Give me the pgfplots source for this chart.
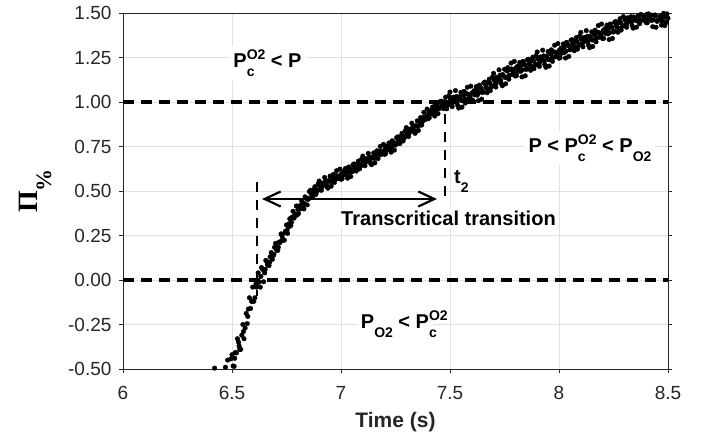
\documentclass[border=0pt]{standalone}
\usepackage{fontspec}
\setmainfont{Liberation Sans}
\newfontfamily\timesf{Liberation Serif}
\usepackage{pgfplots}
\pgfplotsset{compat=1.18}
\usetikzlibrary{arrows.meta}

\newcommand{\supsub}[2]{{\fontsize{14}{16}\selectfont
 \setbox0=\hbox{#1}\setbox2=\hbox{#2}%
 \ifdim\wd0>\wd2 \dimen0=\wd0 \else \dimen0=\wd2 \fi
 \rlap{\raisebox{8pt}{\box0}}\rlap{\raisebox{-9pt}{\box2}}\hspace{\dimen0}}}
\newcommand{\sbs}[1]{\raisebox{-9pt}{\fontsize{14}{16}\selectfont #1}}

\begin{document}
\begin{tikzpicture}
\useasboundingbox (-123pt,-67pt) rectangle (590pt,369pt);
\begin{axis}[
  at={(0,0)}, anchor=south west,
  scale only axis, width=545pt, height=356pt,
  xmin=6, xmax=8.5, ymin=-0.5, ymax=1.5,
  xtick={6,6.5,7,7.5,8,8.5},
  ytick={-0.5,-0.25,0,0.25,0.5,0.75,1,1.25,1.5},
  /pgf/number format/assume math mode=true,
  ticklabel style={font=\fontsize{19}{22}\selectfont, text=black!85},
  xticklabel style={yshift=-10pt},
  yticklabel style={xshift=-4pt, /pgf/number format/fixed, /pgf/number format/fixed zerofill, /pgf/number format/precision=2},
  tick align=outside, major tick length=4pt,
  xtick pos=bottom, ytick pos=both,
  tick style={black!85, line width=0.7pt},
  axis line style={black!85, line width=0.7pt},
  grid=major, major grid style={black!12, line width=0.7pt},
  clip=true,
]
\addplot[black, line width=3.5pt, dash pattern=on 11pt off 7pt] coordinates {(6,1) (8.5,1)};
\addplot[black, line width=3.5pt, dash pattern=on 11pt off 7pt] coordinates {(6,0) (8.5,0)};
\addplot[black, line width=2.5pt, dash pattern=on 10pt off 8pt] coordinates {(6.615,0.55) (6.615,-0.09)};
\addplot[black, line width=2.5pt, dash pattern=on 10pt off 8pt] coordinates {(7.477,0.93) (7.477,0.47)};
% measured samples (outer spread)
\addplot[only marks, mark=*, mark size=2.3pt, black] coordinates {
(6.42,-0.495) (6.47,-0.49)
(6.480,-0.45) (6.485,-0.528) (6.490,-0.505) (6.495,-0.443) (6.500,-0.42) (6.505,-0.483) (6.510,-0.485) (6.515,-0.408)
(6.520,-0.41) (6.525,-0.33) (6.530,-0.35) (6.535,-0.39) (6.540,-0.39) (6.545,-0.31) (6.550,-0.25) (6.555,-0.33)
(6.560,-0.27) (6.565,-0.188) (6.570,-0.245) (6.575,-0.163) (6.580,-0.10) (6.585,-0.16) (6.590,-0.12) (6.595,-0.04)
(6.600,-0.12) (6.605,-0.10) (6.610,-0.02) (6.615,-0.02) (6.620,0.04) (6.625,-0.01) (6.630,-0.04) (6.635,0.07)
(6.640,0.06) (6.645,-0.01) (6.650,0.04) (6.655,0.11) (6.660,0.104) (6.665,0.093) (6.670,0.081) (6.675,0.130)
(6.680,0.154) (6.685,0.116) (6.690,0.138) (6.695,0.184) (6.700,0.206) (6.705,0.168) (6.710,0.166) (6.715,0.212)
(6.720,0.21) (6.725,0.259) (6.730,0.247) (6.735,0.224) (6.740,0.224) (6.745,0.273) (6.750,0.309) (6.755,0.262)
(6.760,0.298) (6.765,0.344) (6.770,0.306) (6.775,0.352) (6.780,0.386) (6.785,0.348) (6.790,0.37) (6.795,0.416)
(6.800,0.366) (6.805,0.374) (6.810,0.417) (6.815,0.413) (6.820,0.444) (6.825,0.416) (6.830,0.399) (6.835,0.467)
(6.840,0.462) (6.845,0.422) (6.850,0.453) (6.855,0.497) (6.860,0.504) (6.865,0.485) (6.870,0.466) (6.875,0.507)
(6.880,0.524) (6.885,0.481) (6.890,0.498) (6.895,0.539) (6.900,0.556) (6.905,0.512) (6.910,0.504) (6.915,0.544)
(6.920,0.536) (6.925,0.576) (6.930,0.556) (6.935,0.524) (6.940,0.516) (6.945,0.556) (6.950,0.584) (6.955,0.527)
(6.960,0.554) (6.965,0.593) (6.970,0.548) (6.975,0.587) (6.980,0.614) (6.985,0.569) (6.990,0.584) (6.995,0.623)
(7.000,0.566) (7.005,0.569) (7.010,0.608) (7.015,0.599) (7.020,0.626) (7.025,0.593) (7.030,0.572) (7.035,0.635)
(7.040,0.626) (7.045,0.581) (7.050,0.608) (7.055,0.648) (7.060,0.652) (7.065,0.632) (7.070,0.612) (7.075,0.652)
(7.080,0.668) (7.085,0.624) (7.090,0.64) (7.095,0.68) (7.100,0.696) (7.105,0.651) (7.110,0.642) (7.115,0.681)
(7.120,0.672) (7.125,0.711) (7.130,0.69) (7.135,0.657) (7.140,0.648) (7.145,0.687) (7.150,0.714) (7.155,0.658)
(7.160,0.686) (7.165,0.726) (7.170,0.682) (7.175,0.722) (7.180,0.75) (7.185,0.706) (7.190,0.722) (7.195,0.762)
(7.200,0.706) (7.205,0.71) (7.210,0.75) (7.215,0.742) (7.220,0.77) (7.225,0.738) (7.230,0.718) (7.235,0.782)
(7.240,0.774) (7.245,0.73) (7.250,0.758) (7.255,0.799) (7.260,0.804) (7.265,0.785) (7.270,0.766) (7.275,0.807)
(7.280,0.824) (7.285,0.781) (7.290,0.798) (7.295,0.839) (7.300,0.856) (7.305,0.813) (7.310,0.806) (7.315,0.847)
(7.320,0.84) (7.325,0.881) (7.330,0.862) (7.335,0.831) (7.340,0.824) (7.345,0.865) (7.350,0.894) (7.355,0.84)
(7.360,0.87) (7.365,0.912) (7.370,0.87) (7.375,0.912) (7.380,0.942) (7.385,0.90) (7.390,0.918) (7.395,0.96)
(7.400,0.906) (7.405,0.911) (7.410,0.951) (7.415,0.944) (7.420,0.972) (7.425,0.941) (7.430,0.921) (7.435,0.986)
(7.440,0.978) (7.445,0.935) (7.450,0.963) (7.455,1.002) (7.460,1.005) (7.465,0.984) (7.470,0.963) (7.475,1.002)
(7.480,1.027) (7.485,0.962) (7.490,0.982) (7.495,1.036) (7.500,1.056) (7.505,0.99) (7.510,0.974) (7.515,1.027)
(7.520,1.011) (7.525,1.064) (7.530,1.031) (7.535,0.982) (7.540,0.966) (7.545,1.019) (7.550,1.054) (7.555,0.971)
(7.560,1.007) (7.565,1.06) (7.570,0.994) (7.575,1.047) (7.580,1.083) (7.585,1.017) (7.590,1.036) (7.595,1.089)
(7.600,1.006) (7.605,1.009) (7.610,1.063) (7.615,1.049) (7.620,1.086) (7.625,1.038) (7.630,1.007) (7.635,1.095)
(7.640,1.081) (7.645,1.016) (7.650,1.053) (7.655,1.108) (7.660,1.112) (7.665,1.082) (7.670,1.052) (7.675,1.107)
(7.680,1.128) (7.685,1.064) (7.690,1.085) (7.695,1.14) (7.700,1.161) (7.705,1.097) (7.710,1.084) (7.715,1.139)
(7.720,1.126) (7.725,1.181) (7.730,1.151) (7.735,1.104) (7.740,1.091) (7.745,1.146) (7.750,1.184) (7.755,1.102)
(7.760,1.139) (7.765,1.193) (7.770,1.128) (7.775,1.182) (7.780,1.219) (7.785,1.154) (7.790,1.174) (7.795,1.228)
(7.800,1.146) (7.805,1.148) (7.810,1.201) (7.815,1.186) (7.820,1.222) (7.825,1.173) (7.830,1.141) (7.835,1.228)
(7.840,1.213) (7.845,1.147) (7.850,1.183) (7.855,1.237) (7.860,1.24) (7.865,1.209) (7.870,1.178) (7.875,1.232)
(7.880,1.252) (7.885,1.187) (7.890,1.207) (7.895,1.261) (7.900,1.281) (7.905,1.215) (7.910,1.2) (7.915,1.253)
(7.920,1.238) (7.925,1.291) (7.930,1.259) (7.935,1.21) (7.940,1.195) (7.945,1.248) (7.950,1.284) (7.955,1.202)
(7.960,1.239) (7.965,1.293) (7.970,1.228) (7.975,1.282) (7.980,1.319) (7.985,1.254) (7.990,1.274) (7.995,1.328)
(8.000,1.246) (8.005,1.249) (8.010,1.303) (8.015,1.289) (8.020,1.326) (8.025,1.278) (8.030,1.247) (8.035,1.335)
(8.040,1.321) (8.045,1.256) (8.050,1.293) (8.055,1.347) (8.060,1.35) (8.065,1.319) (8.070,1.288) (8.075,1.342)
(8.080,1.362) (8.085,1.297) (8.090,1.317) (8.095,1.371) (8.100,1.391) (8.105,1.325) (8.110,1.31) (8.115,1.363)
(8.120,1.348) (8.125,1.401) (8.130,1.369) (8.135,1.32) (8.140,1.305) (8.145,1.358) (8.150,1.394) (8.155,1.312)
(8.160,1.349) (8.165,1.403) (8.170,1.338) (8.175,1.392) (8.180,1.429) (8.185,1.364) (8.190,1.384) (8.195,1.438)
(8.200,1.356) (8.205,1.358) (8.210,1.411) (8.215,1.396) (8.220,1.432) (8.225,1.383) (8.230,1.351) (8.235,1.438)
(8.240,1.423) (8.245,1.357) (8.250,1.393) (8.255,1.448) (8.260,1.452) (8.265,1.422) (8.270,1.392) (8.275,1.447)
(8.280,1.468) (8.285,1.404) (8.290,1.425) (8.295,1.48) (8.300,1.501) (8.305,1.435) (8.310,1.42) (8.315,1.473)
(8.320,1.458) (8.325,1.511) (8.330,1.479) (8.335,1.43) (8.340,1.415) (8.345,1.468) (8.350,1.504) (8.355,1.42)
(8.360,1.455) (8.365,1.507) (8.370,1.44) (8.375,1.492) (8.380,1.527) (8.385,1.46) (8.390,1.478) (8.395,1.53)
(8.400,1.446) (8.405,1.445) (8.410,1.495) (8.415,1.477) (8.420,1.51) (8.425,1.458) (8.430,1.423) (8.435,1.507)
(8.440,1.489) (8.445,1.42) (8.450,1.453) (8.455,1.503) (8.460,1.502) (8.465,1.467) (8.470,1.432) (8.475,1.482)
(8.480,1.498) (8.485,1.429) (8.490,1.445) (8.495,1.495) (8.500,1.47)
};
% measured samples (core of the band)
\addplot[only marks, mark=*, mark size=2.3pt, black] coordinates {
(6.5125,-0.44) (6.5325,-0.37) (6.5525,-0.29) (6.5725,-0.205) (6.5925,-0.12) (6.6125,-0.04) (6.6325,0.02) (6.6525,0.06)
(6.6625,0.086) (6.6725,0.099) (6.6825,0.136) (6.6925,0.144) (6.7025,0.176) (6.7125,0.184) (6.7225,0.216) (6.7325,0.229)
(6.7425,0.266) (6.7525,0.279) (6.7625,0.316) (6.7725,0.324) (6.7825,0.356) (6.7925,0.364) (6.8025,0.396) (6.8125,0.399)
(6.8225,0.426) (6.8325,0.429) (6.8425,0.456) (6.8525,0.459) (6.8625,0.486) (6.8725,0.484) (6.8825,0.506) (6.8925,0.504)
(6.9025,0.526) (6.9125,0.522) (6.9225,0.542) (6.9325,0.538) (6.9425,0.558) (6.9525,0.554) (6.9625,0.572) (6.9725,0.566)
(6.9825,0.584) (6.9925,0.578) (7.0025,0.596) (7.0125,0.59) (7.0225,0.608) (7.0325,0.602) (7.0425,0.62) (7.0525,0.614)
(7.0625,0.634) (7.0725,0.63) (7.0825,0.65) (7.0925,0.646) (7.1025,0.666) (7.1125,0.66) (7.1225,0.678) (7.1325,0.672)
(7.1425,0.69) (7.1525,0.684) (7.1625,0.704) (7.1725,0.70) (7.1825,0.72) (7.1925,0.716) (7.2025,0.736) (7.2125,0.732)
(7.2225,0.752) (7.2325,0.748) (7.2425,0.768) (7.2525,0.764) (7.2625,0.786) (7.2725,0.784) (7.2825,0.806) (7.2925,0.804)
(7.3025,0.826) (7.3125,0.824) (7.3225,0.846) (7.3325,0.844) (7.3425,0.866) (7.3525,0.864) (7.3625,0.888) (7.3725,0.888)
(7.3825,0.912) (7.3925,0.912) (7.4025,0.936) (7.4125,0.933) (7.4225,0.954) (7.4325,0.951) (7.4425,0.972) (7.4525,0.969)
(7.4625,0.987) (7.4725,0.981) (7.4825,0.999) (7.4925,0.993) (7.5025,1.017) (7.5125,0.996) (7.5225,1.023) (7.5325,1.002)
(7.5425,1.029) (7.5525,1.008) (7.5625,1.036) (7.5725,1.016) (7.5825,1.044) (7.5925,1.024) (7.6025,1.052) (7.6125,1.04)
(7.6225,1.064) (7.6325,1.052) (7.6425,1.076) (7.6525,1.058) (7.6625,1.098) (7.6725,1.074) (7.6825,1.106) (7.6925,1.09)
(7.7025,1.122) (7.7125,1.106) (7.7225,1.138) (7.7325,1.122) (7.7425,1.154) (7.7525,1.138) (7.7625,1.174) (7.7725,1.15)
(7.7825,1.186) (7.7925,1.162) (7.8025,1.192) (7.8125,1.172) (7.8225,1.2) (7.8325,1.18) (7.8425,1.208) (7.8525,1.188)
(7.8625,1.218) (7.8725,1.2) (7.8825,1.23) (7.8925,1.212) (7.9025,1.242) (7.9125,1.222) (7.9225,1.25) (7.9325,1.23)
(7.9425,1.258) (7.9525,1.238) (7.9625,1.268) (7.9725,1.25) (7.9825,1.28) (7.9925,1.262) (8.0025,1.292) (8.0125,1.274)
(8.0225,1.304) (8.0325,1.286) (8.0425,1.316) (8.0525,1.298) (8.0625,1.328) (8.0725,1.31) (8.0825,1.34) (8.0925,1.322)
(8.1025,1.352) (8.1125,1.336) (8.1225,1.36) (8.1325,1.34) (8.1425,1.368) (8.1525,1.348) (8.1625,1.378) (8.1725,1.36)
(8.1825,1.39) (8.1925,1.372) (8.2025,1.402) (8.2125,1.386) (8.2225,1.41) (8.2325,1.39) (8.2425,1.418) (8.2525,1.398)
(8.2625,1.43) (8.2725,1.414) (8.2825,1.446) (8.2925,1.43) (8.3025,1.462) (8.3125,1.442) (8.3225,1.47) (8.3325,1.45)
(8.3425,1.478) (8.3525,1.458) (8.3625,1.484) (8.3725,1.462) (8.3825,1.488) (8.3925,1.466) (8.4025,1.492) (8.4125,1.466)
(8.4225,1.488) (8.4325,1.462) (8.4425,1.484) (8.4525,1.458) (8.4625,1.48) (8.4725,1.454) (8.4825,1.476) (8.4925,1.45)
};
\addplot[black, line width=2.2pt, {Straight Barb[length=16pt,width=15pt]}-{Straight Barb[length=16pt,width=15pt]}] coordinates {(6.638,0.455) (7.44,0.455)};
\end{axis}
\begin{scope}[every node/.style={font=\fontsize{20}{24}\selectfont\bfseries, text=black}]
\node[fill=white, inner sep=4pt, anchor=base] at (144.5pt,301pt) {P\supsub{O2}{c} < P};
\node[fill=white, inner sep=4pt, anchor=base] at (467pt,216.7pt) {P < P\supsub{O2}{c} < P\sbs{O2}};
\node[fill=white, inner sep=4pt, anchor=base] at (272pt,40.7pt) {P\sbs{O2} < P\supsub{O2}{c}};
\node[fill=white, inner sep=3pt, anchor=base] at (325.5pt,143pt) {Transcritical transition};
\node[inner sep=0pt, anchor=base west] at (331pt,185pt) {t\sbs{2}};
\end{scope}
\node[font=\fontsize{21}{24}\selectfont\bfseries, text=black!85] at (272.5pt,-53pt) {Time (s)};
\node[rotate=90, anchor=center, text=black] at (-88pt,178pt) {{\timesf\bfseries\fontsize{28}{30}\selectfont Π}\raisebox{-14pt}{\timesf\bfseries\fontsize{22}{24}\selectfont\%}};
\end{tikzpicture}
\end{document}
